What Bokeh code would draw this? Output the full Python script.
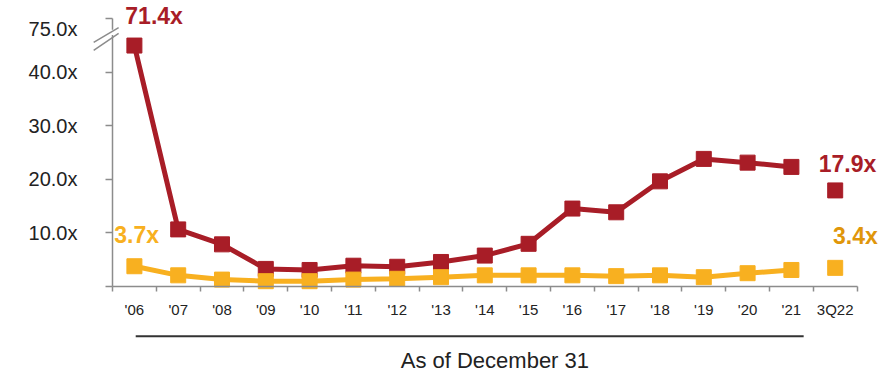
from bokeh.plotting import figure
from bokeh.models import FixedTicker, Label, Arrow, ColumnDataSource, BoxAnnotation
from bokeh.embed import file_html
from bokeh.resources import INLINE

# ---- data ----
categories = ["'06", "'07", "'08", "'09", "'10", "'11", "'12", "'13", "'14", "'15",
              "'16", "'17", "'18", "'19", "'20", "'21", "3Q22"]
red_values = [71.4, 10.6, 7.8, 3.2, 3.0, 3.8, 3.6, 4.5, 5.7, 7.9,
              14.5, 13.8, 19.6, 23.8, 23.1, 22.3, 17.9]
yellow_values = [3.7, 2.0, 1.2, 0.9, 0.9, 1.2, 1.35, 1.65, 2.0, 2.0,
                 2.0, 1.85, 2.0, 1.65, 2.4, 3.0, 3.4]
y_tick_values = [10, 20, 30, 40, 75]
y_tick_labels = ["10.0x", "20.0x", "30.0x", "40.0x", "75.0x"]
x_caption = "As of December 31"

# broken axis: values above 40 are drawn on a compressed scale
BREAK = 40.0
def to_display(v):
    return v if v <= BREAK else BREAK + (v - BREAK) * 0.16

RED = "#A81D27"
YELLOW = "#F8B020"
YELLOW_DARK = "#E0960A"
AXIS_GRAY = "#8C8C8C"
FONT = "Liberation Sans"

n = len(categories)
xs = [i + 0.5 for i in range(n)]
red_disp = [to_display(v) for v in red_values]
yel_disp = [to_display(v) for v in yellow_values]

p = figure(width=882, height=385, output_backend="svg", toolbar_location=None,
           x_range=(-2.557, 17.58), y_range=(-18.63, 53.46),
           min_border_left=0, min_border_right=0, min_border_top=0, min_border_bottom=0)
p.grid.visible = False
p.outline_line_color = None
p.background_fill_color = "white"
p.border_fill_color = "white"

# y axis
tick_pos = [to_display(v) if v <= BREAK else 48.1 for v in y_tick_values]
p.yaxis.fixed_location = 0
p.yaxis.bounds = (0, 50)
p.yaxis.ticker = FixedTicker(ticks=tick_pos, minor_ticks=[0, 10, 20, 30, 40, 50])
p.yaxis.major_label_overrides = {t: l for t, l in zip(tick_pos, y_tick_labels)}
p.yaxis.major_tick_out = 0
p.yaxis.major_tick_in = 0
p.yaxis.minor_tick_out = 7
p.yaxis.minor_tick_in = 0
p.yaxis.minor_tick_line_color = AXIS_GRAY
p.yaxis.axis_line_color = AXIS_GRAY
p.yaxis.axis_line_width = 1.5
p.yaxis.minor_tick_line_width = 1.5
p.yaxis.major_label_standoff = 28
p.yaxis.major_label_text_font = FONT
p.yaxis.major_label_text_font_size = "20px"
p.yaxis.major_label_text_color = "#222222"

# x axis
p.xaxis.fixed_location = 0
p.xaxis.bounds = (0, n)
p.xaxis.ticker = FixedTicker(ticks=xs, minor_ticks=list(range(n + 1)))
p.xaxis.major_label_overrides = {x: c for x, c in zip(xs, categories)}
p.xaxis.major_tick_out = 0
p.xaxis.major_tick_in = 0
p.xaxis.minor_tick_out = 5
p.xaxis.minor_tick_in = 0
p.xaxis.minor_tick_line_color = AXIS_GRAY
p.xaxis.minor_tick_line_width = 1.5
p.xaxis.axis_line_color = AXIS_GRAY
p.xaxis.axis_line_width = 1.5
p.xaxis.major_label_standoff = 10
p.xaxis.major_label_text_font = FONT
p.xaxis.major_label_text_font_size = "15px"
p.xaxis.major_label_text_color = "#222222"

# series
red_src = ColumnDataSource(dict(x=xs[:-1], y=red_disp[:-1]))
yel_src = ColumnDataSource(dict(x=xs[:-1], y=yel_disp[:-1]))
p.line("x", "y", source=red_src, line_color=RED, line_width=5)
p.scatter("x", "y", source=red_src, marker="square", size=15, fill_color=RED, line_color=RED)
p.scatter([xs[-1]], [red_disp[-1]], marker="square", size=15, fill_color=RED, line_color=RED)
p.line("x", "y", source=yel_src, line_color=YELLOW, line_width=5)
p.scatter("x", "y", source=yel_src, marker="square", size=15, fill_color=YELLOW, line_color=YELLOW)
p.scatter([xs[-1]], [yel_disp[-1]], marker="square", size=15, fill_color=YELLOW, line_color=YELLOW)

# value labels
def add_label(x, y, text, color):
    p.add_layout(Label(x=x, y=y, text=text, text_color=color, text_font=FONT,
                       text_font_size="23px", text_font_style="bold",
                       text_align="center", text_baseline="middle"))

add_label(xs[0] + 0.45, 50.6, f"{red_values[0]:.1f}x", RED)
add_label(xs[-1] + 0.28, 22.9, f"{red_values[-1]:.1f}x", RED)
add_label(xs[0] + 0.05, 9.6, f"{yellow_values[0]:.1f}x", YELLOW)
add_label(xs[-1] + 0.46, 9.3, f"{yellow_values[-1]:.1f}x", YELLOW_DARK)

# axis break marks
p.add_layout(BoxAnnotation(left=-0.06, right=0.06, bottom=47.0, top=48.0,
                           fill_color="white", fill_alpha=1, line_color=None))
p.add_layout(Arrow(x_start=-0.43, y_start=45.6, x_end=0.14, y_end=48.4, end=None,
                   line_color=AXIS_GRAY, line_width=1.5))
p.add_layout(Arrow(x_start=-0.43, y_start=44.1, x_end=0.14, y_end=47.3, end=None,
                   line_color=AXIS_GRAY, line_width=1.5))

# caption with line
p.add_layout(Arrow(x_start=0.53, y_start=-9.4, x_end=15.78, y_end=-9.4, end=None,
                   line_color="#333333", line_width=2))
p.add_layout(Label(x=8.73, y=-14.0, text=x_caption, text_color="#222222", text_font=FONT,
                   text_font_size="22px", text_align="center", text_baseline="middle"))

open("out.html", "w").write(file_html(p, INLINE))
